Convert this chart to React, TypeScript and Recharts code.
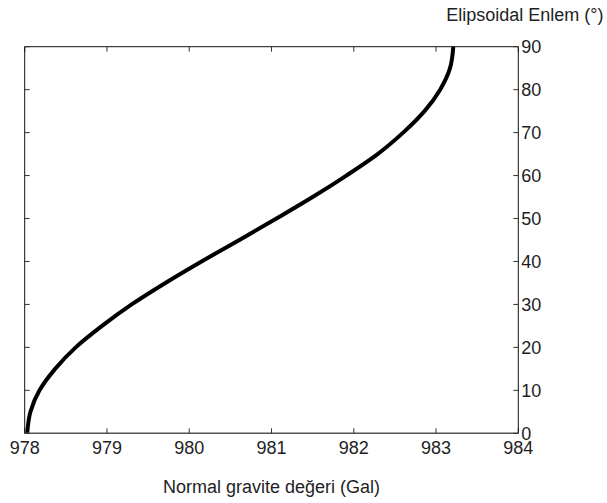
import { Label, Line, LineChart, XAxis, YAxis } from "recharts";

// Normal gravity (Gal) against ellipsoidal latitude (degrees)
const LATITUDE = [0, 5, 10, 15, 20, 25, 30, 35, 40, 45, 50, 55, 60, 65, 70, 75, 80, 85, 90];
const GRAVITY = [
  978.03, 978.07, 978.18, 978.37, 978.62, 978.94, 979.3, 979.71, 980.15, 980.61,
  981.06, 981.5, 981.91, 982.29, 982.6, 982.86, 983.05, 983.17, 983.21,
];

const X_TICKS = [978, 979, 980, 981, 982, 983, 984];
const Y_TICKS = [0, 10, 20, 30, 40, 50, 60, 70, 80, 90];

const X_TITLE = "Normal gravite değeri (Gal)";
const Y_TITLE = "Elipsoidal Enlem (°)";

const data = LATITUDE.map((lat, i) => ({ g: GRAVITY[i], lat }));

const INK = "#1e1e24";
const FONT = "'Liberation Sans', Arial, sans-serif";
const tickStyle = { fill: INK, fontSize: 18, fontFamily: FONT };
const X_DOMAIN: [number, number] = [978, 984];
const Y_DOMAIN: [number, number] = [0, 90];

// top and left edges of the box: tick marks only
const NoLabel = () => <g />;

export default function App() {
  return (
    <div style={{ position: "absolute", left: 0, top: 0 }}>
      <LineChart
        width={607}
        height={503}
        data={data}
        margin={{ top: 46.7, right: 28.7, bottom: 0, left: 24.7 }}
      >
        {/* negative tickSize turns the marks inward, labels stay outside */}
        <XAxis
          xAxisId="bottom"
          dataKey="g"
          type="number"
          domain={X_DOMAIN}
          ticks={X_TICKS}
          allowDataOverflow
          height={69.7}
          tickSize={-5}
          tickMargin={13}
          tickLine={{ stroke: "#333" }}
          axisLine={{ stroke: "#555", strokeWidth: 1.5 }}
          tick={tickStyle}
        >
          <Label
            value={X_TITLE}
            position="insideBottom"
            offset={10}
            style={{ fill: INK, fontSize: 18, fontFamily: FONT }}
          />
        </XAxis>
        <XAxis
          xAxisId="top"
          orientation="top"
          dataKey="g"
          type="number"
          domain={X_DOMAIN}
          ticks={X_TICKS}
          mirror
          height={10}
          tickSize={5}
          axisLine={{ stroke: "#111" }}
          tickLine={{ stroke: "#333" }}
          tick={NoLabel}
        />
        <YAxis
          yAxisId="right"
          orientation="right"
          dataKey="lat"
          type="number"
          domain={Y_DOMAIN}
          ticks={Y_TICKS}
          width={60}
          tickSize={-5}
          tickMargin={8}
          tickLine={{ stroke: "#333" }}
          axisLine={{ stroke: "#111" }}
          tick={tickStyle}
        >
          <Label
            content={({ viewBox }: any) => (
              <text
                x={viewBox.x - 72}
                y={viewBox.y - 26}
                fill={INK}
                fontSize={18}
                fontFamily={FONT}
              >
                {Y_TITLE}
              </text>
            )}
          />
        </YAxis>
        <YAxis
          yAxisId="left"
          orientation="left"
          dataKey="lat"
          type="number"
          domain={Y_DOMAIN}
          ticks={Y_TICKS}
          mirror
          width={10}
          tickSize={5}
          axisLine={{ stroke: "#111" }}
          tickLine={{ stroke: "#333" }}
          tick={NoLabel}
        />
        <Line
          xAxisId="bottom"
          yAxisId="right"
          type="monotoneY"
          dataKey="lat"
          stroke="#000"
          strokeWidth={4}
          dot={false}
          isAnimationActive={false}
        />
      </LineChart>
    </div>
  );
}
